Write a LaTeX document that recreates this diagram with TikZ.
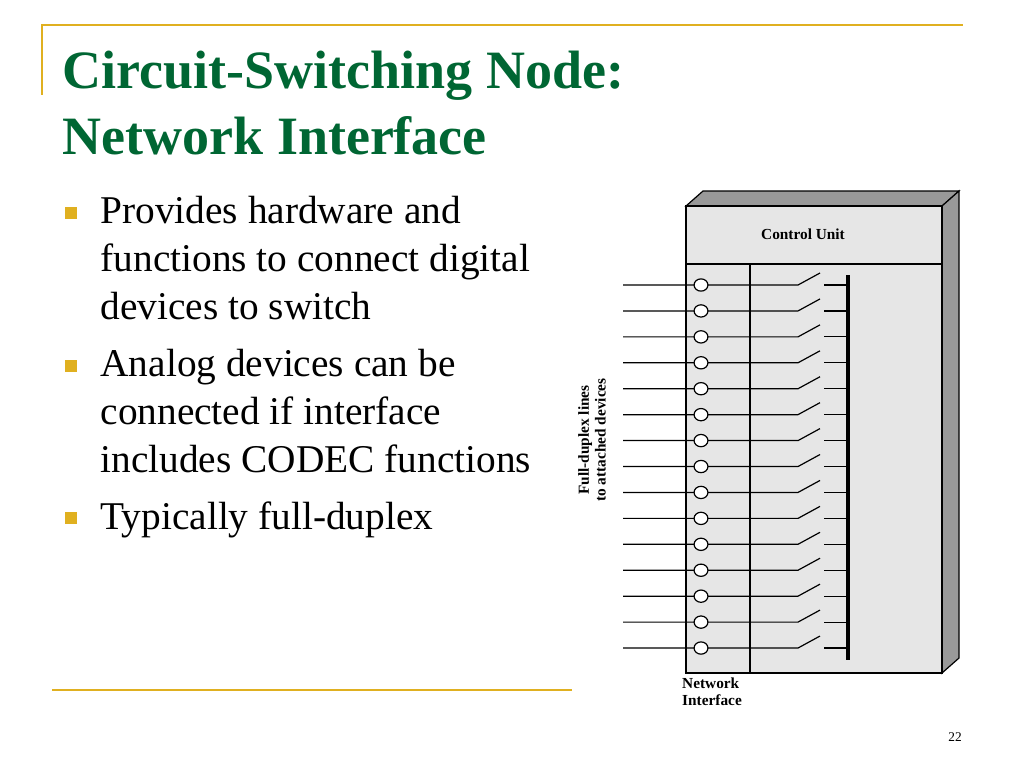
\documentclass[tikz,border=0pt]{standalone}
\usepackage{fontspec}
\setmainfont{Liberation Serif}
\definecolor{tgreen}{HTML}{006633}
\definecolor{gold}{HTML}{E0B020}
\definecolor{boxfill}{HTML}{E6E6E6}
\definecolor{sidegray}{HTML}{999999}
\begin{document}
\begin{tikzpicture}[x=0.75pt,y=-0.75pt,line width=0.9pt,
  body/.style={anchor=north west,align=left,font=\fontsize{29.5}{36}\selectfont,inner sep=0},
  bul/.style={fill=gold,minimum size=9pt,inner sep=0},
  lab/.style={font=\bfseries\fontsize{11.5}{12.5}\selectfont,align=center,inner sep=0}]
\useasboundingbox (0,0) rectangle (1024,768);
\draw[gold,line width=1.2pt] (42,25) -- (963,25) (42,24) -- (42,95);
\draw[gold,line width=1.2pt] (52,690) -- (572,690);
\node[anchor=west,font=\bfseries\fontsize{40.5}{49}\selectfont,text=tgreen,align=left,inner sep=0] (title) at (62,103) {Circuit-Switching Node:\\Network Interface};
\node[bul] (b1) at (71,213) {};
\node[body] (t1) at (100,196) {Provides hardware and\\functions to connect digital\\devices to switch};
\node[bul] (b2) at (71,366) {};
\node[body] (t2) at (100,349) {Analog devices can be\\connected if interface\\includes CODEC functions};
\node[bul] (b3) at (71,518) {};
\node[body] (t3) at (100,501) {Typically full-duplex};
% box
\draw[fill=sidegray] (686,206) -- (703,191) -- (959,191) -- (942,206) -- cycle;
\draw[fill=sidegray] (942,206) -- (959,191) -- (959,658) -- (942,673) -- cycle;
\draw[fill=boxfill] (686,206) rectangle (942,673);
\draw (686,264) -- (942,264);
\draw (750,264) -- (750,673);
\node[lab] (cu) at (803,234) {Control Unit};
\draw[line width=2.6pt] (848,275) -- (848,660);
\foreach \i in {0,...,14}{
  \pgfmathsetmacro{\yy}{285+\i*25.93}
  \draw (623,\yy) -- (695,\yy) (707,\yy) -- (798,\yy) -- (820,\yy-12);
  \draw[fill=white] (701,\yy) ellipse (5.2pt and 4.6pt);
  \draw (824,\yy) -- (848,\yy);
}
\node[lab,rotate=90] (fd) at (592,440) {Full-duplex lines\\to attached devices};
\node[lab,align=left] (ni) at (712,692) {Network\\Interface};
\node[font=\fontsize{10}{12}\selectfont,inner sep=0] (pg) at (955,737) {22};
\end{tikzpicture}
\end{document}
